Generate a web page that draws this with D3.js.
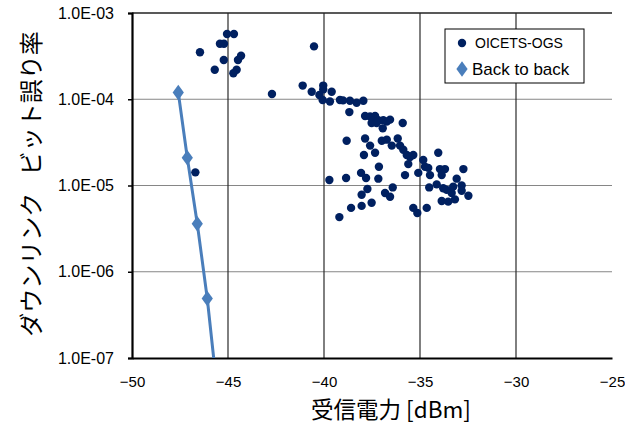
<!DOCTYPE html>
<html><head><meta charset="utf-8">
<script src="https://cdn.jsdelivr.net/npm/d3@7/dist/d3.min.js"></script>
<style>
body{margin:0;background:#fff;}
svg{display:block;}
</style></head>
<body>
<svg id="chart" width="625" height="426"></svg>
<script>
// ---- data ----
const xTicks = [-50, -45, -40, -35, -30, -25];
const yTickValues = [1e-3, 1e-4, 1e-5, 1e-6, 1e-7];
const yTickLabels = ["1.0E-03", "1.0E-04", "1.0E-05", "1.0E-06", "1.0E-07"];
const seriesNames = ["OICETS-OGS", "Back to back"];

const oicetsX = [
  -45.05, -44.69, -45.42, -45.21, -46.46, -44.32, -44.48, -45.22, -45.69, -44.55, -44.72,
  -42.71, -40.52, -46.70,
  -41.11, -40.64, -40.04, -40.04, -40.24, -39.60, -40.07, -39.69, -39.17, -39.01, -38.65, -38.30, -37.95, -38.68,
  -37.86, -37.60, -37.34, -37.43, -37.17, -37.52, -37.26, -36.91, -36.56, -36.73, -35.90, -36.94,
  -38.82, -37.86, -37.60, -37.34, -37.92, -36.99, -36.73, -36.47, -36.16, -36.04, -35.87, -35.69, -35.52, -35.35,
  -37.14, -35.61, -35.78, -35.09, -34.83, -34.74, -34.05, -34.48, -33.96, -33.70, -32.74, -33.09, -34.57, -33.87,
  -39.72, -38.85, -38.07, -37.81, -37.17, -36.42, -37.74, -38.04, -36.82, -36.56,
  -34.52, -34.13, -33.79, -33.61, -33.27, -33.35, -32.83, -32.83, -32.48, -33.87, -33.53, -33.18,
  -37.52, -38.04, -38.59, -39.20, -35.35, -35.14, -34.65
];
const oicetsBER = [
  5.7e-4, 5.7e-4, 4.4e-4, 4.4e-4, 3.5e-4, 3.2e-4, 2.85e-4, 2.85e-4, 2.2e-4, 2.2e-4, 2.0e-4,
  1.15e-4, 4.1e-4, 1.42e-5,
  1.44e-4, 1.22e-4, 1.44e-4, 1.3e-4, 1.12e-4, 1.22e-4, 9.8e-5, 9.4e-5, 9.8e-5, 9.7e-5, 9.6e-5, 9.1e-5, 9.6e-5, 7.1e-5,
  6.4e-5, 6.3e-5, 6.4e-5, 5.7e-5, 5.7e-5, 5.3e-5, 5.3e-5, 5.7e-5, 5.8e-5, 5.5e-5, 5.3e-5, 4.6e-5,
  3.3e-5, 3.5e-5, 2.9e-5, 2.4e-5, 2.26e-5, 3.3e-5, 3.4e-5, 2.9e-5, 3.5e-5, 2.9e-5, 2.6e-5, 2.26e-5, 2.14e-5, 2.26e-5,
  1.65e-5, 1.77e-5, 1.32e-5, 1.4e-5, 1.98e-5, 1.65e-5, 2.4e-5, 1.32e-5, 1.55e-5, 1.55e-5, 1.55e-5, 1.2e-5, 1.6e-5, 1.32e-5,
  1.16e-5, 1.22e-5, 1.4e-5, 1.22e-5, 1.2e-5, 9.5e-6, 9.1e-6, 7.8e-6, 8.2e-6, 7.4e-6,
  9.5e-6, 1.03e-5, 9.3e-6, 8.9e-6, 9.7e-6, 8.2e-6, 1.0e-5, 8.7e-6, 7.6e-6, 6.6e-6, 6.5e-6, 6.9e-6,
  6.3e-6, 5.8e-6, 5.5e-6, 4.3e-6, 5.5e-6, 4.8e-6, 5.5e-6
];
const b2bX = [-47.59, -47.12, -46.60, -46.08, -45.60];
const b2bBER = [1.2e-4, 2.1e-5, 3.6e-6, 4.9e-7, 5e-8];

// ---- layout ----
const svg = d3.select("#chart");
const m = {left: 132, top: 13, right: 612, bottom: 358};
const x = d3.scaleLinear().domain([-50, -25]).range([m.left, m.right]);
const y = d3.scaleLog().domain([1e-7, 1e-3]).range([m.bottom, m.top]);
const latin = "'Liberation Sans', Arial, sans-serif";
const cjk = "'Noto Sans CJK JP', sans-serif";
const navy = "#002060";
const blue = "#4a7ebb";

svg.append("defs").append("clipPath").attr("id", "clip")
  .append("rect").attr("x", m.left).attr("y", m.top)
  .attr("width", m.right - m.left).attr("height", m.bottom - m.top);

// horizontal gridlines
svg.append("g").selectAll("line").data(yTickValues.slice(1, 4)).join("line")
  .attr("x1", m.left).attr("x2", m.right)
  .attr("y1", d => y(d)).attr("y2", d => y(d))
  .attr("stroke", "#868686").attr("stroke-width", 1.2);
// vertical gridlines
svg.append("g").selectAll("line").data(xTicks.slice(1, 5)).join("line")
  .attr("x1", d => x(d)).attr("x2", d => x(d))
  .attr("y1", m.top).attr("y2", m.bottom)
  .attr("stroke", "#2a2a2a").attr("stroke-width", 1.2);
// top border
svg.append("line").attr("x1", m.left).attr("x2", m.right)
  .attr("y1", y(1e-3)).attr("y2", y(1e-3))
  .attr("stroke", "#222").attr("stroke-width", 1.5);

// y axis
const yAxis = d3.axisLeft(y).tickValues(yTickValues)
  .tickFormat((d, i) => yTickLabels[i]).tickSize(4).tickPadding(14);
const gy = svg.append("g").attr("transform", `translate(${m.left},0)`).call(yAxis);
gy.select(".domain").attr("stroke", "#000").attr("stroke-width", 2.2);
gy.selectAll(".tick line").attr("stroke", "#000").attr("stroke-width", 1.5);
gy.selectAll("text").attr("font-family", latin).attr("font-size", 16).attr("fill", "#000");

// x axis
const xAxis = d3.axisBottom(x).tickValues(xTicks).tickSize(0).tickPadding(18);
const gx = svg.append("g").attr("transform", `translate(0,${m.bottom})`).call(xAxis);
gx.select(".domain").attr("stroke", "#000").attr("stroke-width", 2);
gx.selectAll("text").attr("font-family", latin).attr("font-size", 15).attr("fill", "#000");

// back to back line
const plot = svg.append("g").attr("clip-path", "url(#clip)");
const b2b = b2bX.map((v, i) => ({x: v, y: b2bBER[i]}));
plot.append("path").datum(b2b)
  .attr("d", d3.line().x(d => x(d.x)).y(d => y(d.y)))
  .attr("fill", "none").attr("stroke", blue).attr("stroke-width", 3);
const diamond = d3.symbol().type(d3.symbolDiamond).size(70);
plot.selectAll(".dia").data(b2b).join("path")
  .attr("transform", d => `translate(${x(d.x)},${y(d.y)}) scale(1.25,1)`)
  .attr("d", diamond).attr("fill", blue);

// OICETS points
const pts = oicetsX.map((v, i) => ({x: v, y: oicetsBER[i]}));
plot.selectAll(".pt").data(pts).join("circle")
  .attr("cx", d => x(d.x)).attr("cy", d => y(d.y)).attr("r", 4.2)
  .attr("fill", navy);

// legend
const lg = svg.append("g");
lg.append("rect").attr("x", 445).attr("y", 29).attr("width", 139).attr("height", 54)
  .attr("fill", "#fff").attr("stroke", "#000").attr("stroke-width", 1);
lg.append("circle").attr("cx", 462).attr("cy", 43).attr("r", 4.2).attr("fill", navy);
lg.append("text").attr("x", 475).attr("y", 48).text(seriesNames[0])
  .attr("font-family", latin).attr("font-size", 14).attr("fill", "#000");
lg.append("path").attr("transform", "translate(462,69) scale(1.25,1)")
  .attr("d", diamond).attr("fill", blue);
lg.append("text").attr("x", 472).attr("y", 75).text(seriesNames[1])
  .attr("font-family", latin).attr("font-size", 17).attr("fill", "#000");

// axis titles
svg.append("text").attr("x", 391).attr("y", 418).attr("text-anchor", "middle")
  .attr("font-family", cjk).attr("font-size", 22.5).attr("fill", "#000")
  .text("受信電力 [dBm]");
svg.append("text").attr("transform", "translate(40,184) rotate(-90)")
  .attr("text-anchor", "middle").attr("word-spacing", 12)
  .attr("font-family", cjk).attr("font-size", 24).attr("fill", "#000")
  .text("ダウンリンク ビット誤り率");
</script>
</body></html>
